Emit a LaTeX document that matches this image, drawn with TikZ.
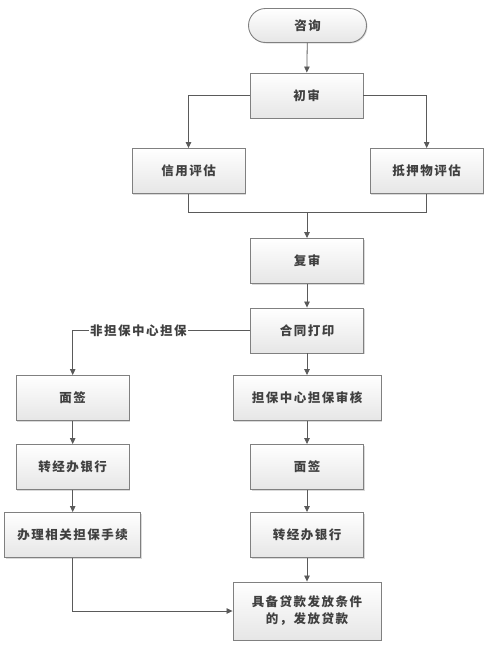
\documentclass[tikz,border=0pt]{standalone}
\usepackage{fontspec}
\newfontfamily\cjk{Noto Sans CJK SC}[LetterSpace=12]
\usetikzlibrary{arrows.meta,shapes.misc,shadows}
\definecolor{linec}{HTML}{5A5A5A}
\definecolor{boxb}{HTML}{808080}
\definecolor{txt}{HTML}{404040}
\definecolor{boxbot}{HTML}{E6E6E6}
\tikzset{
  box/.style={draw=boxb, line width=0.9pt, top color=white, bottom color=boxbot,
    minimum width=113pt, minimum height=45pt, inner sep=2pt,
    font=\cjk\bfseries\fontsize{12.5}{17}\selectfont, text=txt, align=center,
    drop shadow={shadow xshift=1pt, shadow yshift=-1pt, fill=black, opacity=0.15}},
  term/.style={box, rounded rectangle, minimum width=122pt, minimum height=34pt},
  conn/.style={draw=linec, line width=0.8pt, -{Triangle[length=6pt,width=5.5pt]}},
  plain/.style={draw=linec, line width=0.8pt},
  lab/.style={font=\cjk\bfseries\fontsize{12.5}{15}\selectfont, text=txt, fill=white, inner sep=1pt}
}
\begin{document}
\begin{tikzpicture}[x=1pt,y=-1pt]
\useasboundingbox (0,0) rectangle (489,646);
\node[term] (zx) at (307.5,25.5) {咨询};
\node[box] (cs) at (306.5,95.5) {初审};
\node[box] (xy) at (188.5,171) {信用评估};
\node[box] (dy) at (426.7,171) {抵押物评估};
\node[box] (fs) at (307,261) {复审};
\node[box] (ht) at (307,330.5) {合同打印};
\node[box] (ml) at (72.7,398) {面签};
\node[box, minimum width=148pt] (db) at (307,398) {担保中心担保审核};
\node[box] (zl) at (72.7,467) {转经办银行};
\node[box] (mr) at (307,467) {面签};
\node[box, minimum width=136pt] (bl) at (72.7,535) {办理相关担保手续};
\node[box] (zr) at (307,535) {转经办银行};
\node[box, minimum width=148pt, minimum height=58pt, text width=140pt] (jb) at (307,611) {具备贷款发放条件\\的，发放贷款};
\coordinate (m) at (307,212.7);
\draw[conn] (zx) -- (cs);
\draw[conn] (cs.west) -| (xy.north);
\draw[conn] (cs.east) -| (dy.north);
\draw[plain] (xy.south) |- (m);
\draw[plain] (dy.south) |- (m);
\draw[conn] (m) -- (fs.north);
\draw[conn] (fs) -- (ht);
\draw[conn] (ht.west) -| node[lab, pos=0.315] {非担保中心担保} (ml.north);
\draw[conn] (ht) -- (db);
\draw[conn] (db) -- (mr);
\draw[conn] (mr) -- (zr);
\draw[conn] (zr) -- (jb);
\draw[conn] (ml) -- (zl);
\draw[conn] (zl) -- (bl);
\draw[conn] (bl.south) |- (jb.west);
\end{tikzpicture}
\end{document}
